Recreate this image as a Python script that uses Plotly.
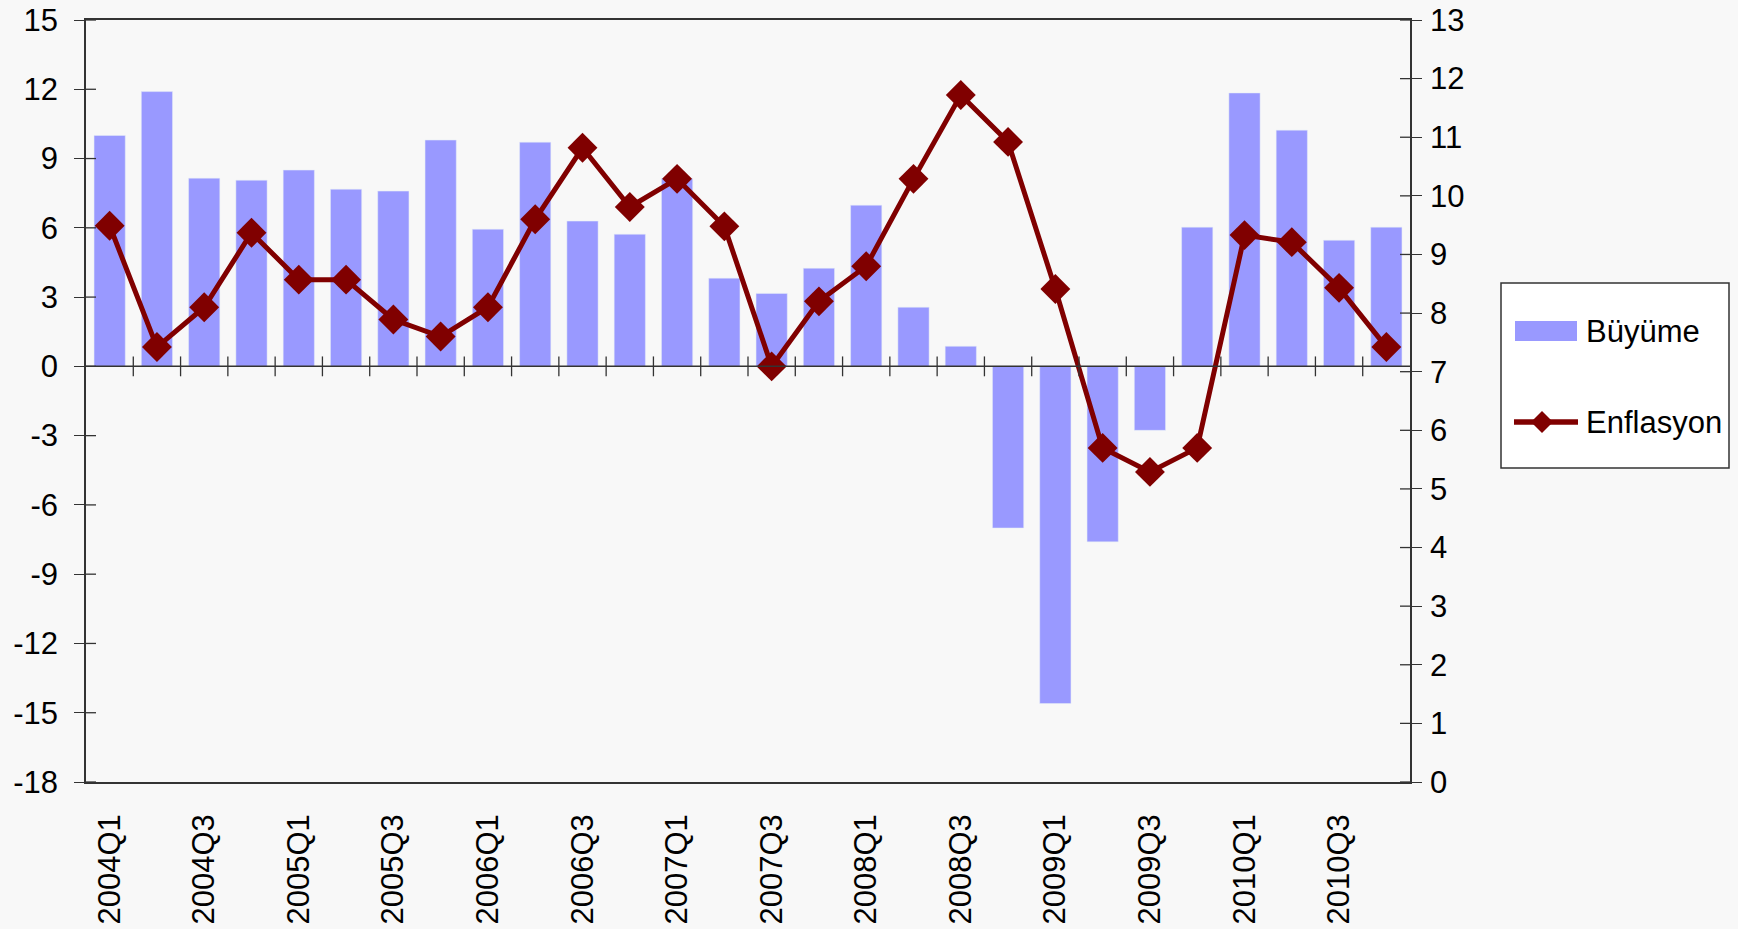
import plotly.graph_objects as go

quarters = ["2004Q1","2004Q2","2004Q3","2004Q4","2005Q1","2005Q2","2005Q3","2005Q4",
            "2006Q1","2006Q2","2006Q3","2006Q4","2007Q1","2007Q2","2007Q3","2007Q4",
            "2008Q1","2008Q2","2008Q3","2008Q4","2009Q1","2009Q2","2009Q3","2009Q4",
            "2010Q1","2010Q2","2010Q3","2010Q4"]
buyume = [10.0, 11.9, 8.15, 8.06, 8.5, 7.67, 7.59, 9.8, 5.94, 9.71, 6.29, 5.72, 8.14, 3.82,
          3.16, 4.25, 6.98, 2.56, 0.87, -7.0, -14.6, -7.6, -2.77, 6.03, 11.84, 10.23, 5.46, 6.03]
enflasyon = [9.49, 7.42, 8.10, 9.37, 8.57, 8.57, 7.89, 7.60, 8.10, 9.60, 10.82, 9.81, 10.29, 9.48,
             7.09, 8.20, 8.80, 10.29, 11.72, 10.92, 8.41, 5.70, 5.29, 5.70, 9.33, 9.21, 8.43, 7.42]
left_ticks = list(range(-18, 16, 3))
right_ticks = list(range(0, 14))
legend_names = ["Büyüme", "Enflasyon"]

FONT = "Liberation Sans, Arial, sans-serif"
BAR_COLOR = "#9999FF"
LINE_COLOR = "#800000"
AX = "#333333"

fig = go.Figure()
fig.add_trace(go.Bar(x=quarters, y=buyume, name=legend_names[0], marker_color=BAR_COLOR,
                     yaxis="y", showlegend=False))
fig.add_trace(go.Scatter(x=quarters, y=enflasyon, name=legend_names[1], mode="lines+markers",
                         line=dict(color=LINE_COLOR, width=5),
                         marker=dict(symbol="diamond", size=23, color=LINE_COLOR),
                         yaxis="y2", showlegend=False, cliponaxis=False))

shapes = []
# category boundary ticks crossing the zero line
for i in range(len(quarters) - 1):
    shapes.append(dict(type="line", xref="x", yref="y", x0=i + 0.5, x1=i + 0.5,
                       y0=-0.43, y1=0.43, line=dict(color=AX, width=1.3)))
shapes.append(dict(type="line", xref="paper", yref="y", x0=0, x1=1, y0=0, y1=0,
                   line=dict(color=AX, width=1.5)))
# inner halves of the crossing axis ticks
for v in left_ticks:
    shapes.append(dict(type="line", xref="paper", xsizemode="pixel", xanchor=0,
                       x0=0, x1=10, yref="y", y0=v, y1=v, line=dict(color=AX, width=1.3)))
for v in right_ticks:
    shapes.append(dict(type="line", xref="paper", xsizemode="pixel", xanchor=1,
                       x0=-10, x1=0, yref="y2", y0=v, y1=v, line=dict(color=AX, width=1.3)))

# legend box drawn in pixel offsets from the plot's top-right corner
def pix(**kw):
    d = dict(xref="paper", yref="paper", xsizemode="pixel", ysizemode="pixel",
             xanchor=1, yanchor=1)
    d.update(kw)
    return d

shapes.append(pix(type="rect", x0=91, x1=319, y0=-263, y1=-448,
                  fillcolor="white", line=dict(color=AX, width=1.5), layer="above"))
shapes.append(pix(type="rect", x0=105, x1=167, y0=-301, y1=-321,
                  fillcolor=BAR_COLOR, line=dict(width=0), layer="above"))
shapes.append(pix(type="line", x0=104, x1=168, y0=-402, y1=-402,
                  line=dict(color=LINE_COLOR, width=5.5), layer="above"))
shapes.append(pix(type="path", path="M 121,-402 L 132,-391 L 143,-402 L 132,-413 Z",
                  fillcolor=LINE_COLOR, line=dict(width=0), layer="above"))

annotations = [
    dict(xref="paper", yref="paper", x=1, y=1, xanchor="left", yanchor="middle",
         xshift=174, yshift=-311, text=legend_names[0], showarrow=False,
         font=dict(family=FONT, size=31, color="black")),
    dict(xref="paper", yref="paper", x=1, y=1, xanchor="left", yanchor="middle",
         xshift=174, yshift=-402, text=legend_names[1], showarrow=False,
         font=dict(family=FONT, size=31, color="black")),
]

fig.update_layout(
    width=1738, height=929,
    paper_bgcolor="#f8f8f8", plot_bgcolor="#f8f8f8",
    margin=dict(l=86, r=328, t=20, b=147, autoexpand=False),
    font=dict(family=FONT, size=31, color="black"),
    bargap=0.34,
    shapes=shapes,
    annotations=annotations,
    showlegend=False,
    xaxis=dict(type="category", tickvals=quarters[::2], ticktext=quarters[::2],
               tickangle=-90, showline=True, linecolor=AX, linewidth=1.5, mirror=True,
               ticks="", showgrid=False, range=[-0.5, len(quarters) - 0.5],
               automargin=False, ticklabelstandoff=18),
    yaxis=dict(range=[-18, 15], tickvals=left_ticks,
               ticktext=[str(v) for v in left_ticks],
               showgrid=False, zeroline=False, automargin=False,
               showline=True, linecolor=AX, linewidth=1.5, ticks="outside",
               ticklen=10, tickcolor=AX, ticklabelstandoff=10),
    yaxis2=dict(range=[0, 13], tickvals=right_ticks, overlaying="y", side="right",
                showgrid=False, zeroline=False, showline=True, linecolor=AX,
                automargin=False, linewidth=1.5, ticks="outside", ticklen=10,
                tickcolor=AX, ticklabelstandoff=2),
)
fig.write_html("out.html", config={"displayModeBar": False},
               post_script="document.body.style.margin='0';"
                           "document.body.style.background='#f8f8f8';"
                           "document.body.style.overflow='hidden';")
